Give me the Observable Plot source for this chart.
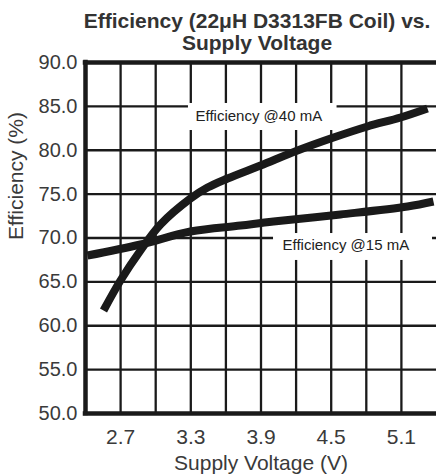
<!DOCTYPE html>
<html><head><meta charset="utf-8">
<script src="https://cdn.jsdelivr.net/npm/d3@7"></script>
<script src="https://cdn.jsdelivr.net/npm/@observablehq/plot@0.6"></script>
<style>body{margin:0;background:#fff} svg{display:block}</style>
</head><body><div id="chart"></div>
<script>
// ---- data ----
const titleText = "Efficiency (22μH D3313FB Coil) vs.\nSupply Voltage";
const xLabel = "Supply Voltage (V)";
const yLabel = "Efficiency (%)";
const xTicks = [2.7, 3.3, 3.9, 4.5, 5.1];
const xGrid = [2.7, 3.0, 3.3, 3.6, 3.9, 4.2, 4.5, 4.8, 5.1];
const yTicks = [50, 55, 60, 65, 70, 75, 80, 85, 90];
const yGrid = [55, 60, 65, 70, 75, 80, 85];

const v40   = [2.554, 2.699, 2.870, 3.041, 3.297, 3.443, 3.614, 3.896, 4.212, 4.520, 4.810, 5.092, 5.323];
const eff40 = [61.74, 65.16, 68.58, 71.54, 74.50, 75.75, 76.78, 78.26, 79.97, 81.45, 82.71, 83.73, 84.76];
const v15   = [2.417, 2.870, 3.297, 3.725, 4.007, 4.579, 5.152, 5.374];
const eff15 = [68.00, 69.26, 70.74, 71.42, 71.88, 72.68, 73.59, 74.16];

const labelText = ["Efficiency @40 mA", "Efficiency @15 mA"];
const labelX = [3.34, 4.084];
const labelY = [83.85, 69.15];
const boxX1 = [3.28, 4.007], boxX2 = [4.55, 5.366];
const boxY1 = [82.25, 67.44], boxY2 = [85.33, 70.51];

// ---- tables ----
const d40 = v40.map((v, i) => ({v, e: eff40[i]}));
const d15 = v15.map((v, i) => ({v, e: eff15[i]}));
const labels = labelText.map((t, i) => ({t, x: labelX[i], y: labelY[i], x1: boxX1[i], x2: boxX2[i], y1: boxY1[i], y2: boxY2[i]}));

const ink = "#1a1a1a";
const txt = "#3a3a3a";

const chart = Plot.plot({
  width: 436, height: 476,
  marginLeft: 85, marginRight: 0, marginTop: 62, marginBottom: 63,
  style: {fontFamily: "'Liberation Sans', Arial, Helvetica, sans-serif", background: "#fff"},
  x: {domain: [2.4, 5.4]},
  y: {domain: [50, 90]},
  marks: [
    Plot.ruleX(xGrid, {stroke: ink, strokeWidth: 2.3}),
    Plot.ruleY(yGrid, {stroke: ink, strokeWidth: 2.3}),
    Plot.rect(labels, {x1: "x1", x2: "x2", y1: "y1", y2: "y2", fill: "white"}),
    Plot.line(d40, {x: "v", y: "e", stroke: ink, strokeWidth: 8, curve: "catmull-rom", strokeLinecap: "butt"}),
    Plot.line(d15, {x: "v", y: "e", stroke: ink, strokeWidth: 8, curve: "catmull-rom", strokeLinecap: "butt"}),
    Plot.ruleX([2.4], {stroke: ink, strokeWidth: 4.5, strokeLinecap: "square"}),
    Plot.ruleY([50, 90], {stroke: ink, strokeWidth: 4.5, strokeLinecap: "square"}),
    Plot.text(labels, {x: "x", y: "y", text: "t", textAnchor: "start", fontSize: 15, fill: "#222"}),
    Plot.axisX(xTicks, {tickSize: 0, tickPadding: 16, fontSize: 21, fill: txt, tickFormat: d3.format(".1f"), label: null}),
    Plot.axisY(yTicks, {tickSize: 0, tickPadding: 8, fontSize: 20, fill: txt, tickFormat: d3.format(".1f"), label: null}),
    Plot.text([yLabel], {frameAnchor: "left", rotate: -90, lineAnchor: "top", dx: -77, dy: 2, fontSize: 21, fill: txt}),
    Plot.text([xLabel], {frameAnchor: "bottom", lineAnchor: "top", dy: 42, fontSize: 21, fill: txt}),
    Plot.text([titleText], {frameAnchor: "top", lineAnchor: "top", dy: -50, dx: -4, fontSize: 21, fontWeight: "bold", lineHeight: 1.05, fill: "#333"})
  ]
});
document.getElementById("chart").append(chart);
</script>
</body></html>
